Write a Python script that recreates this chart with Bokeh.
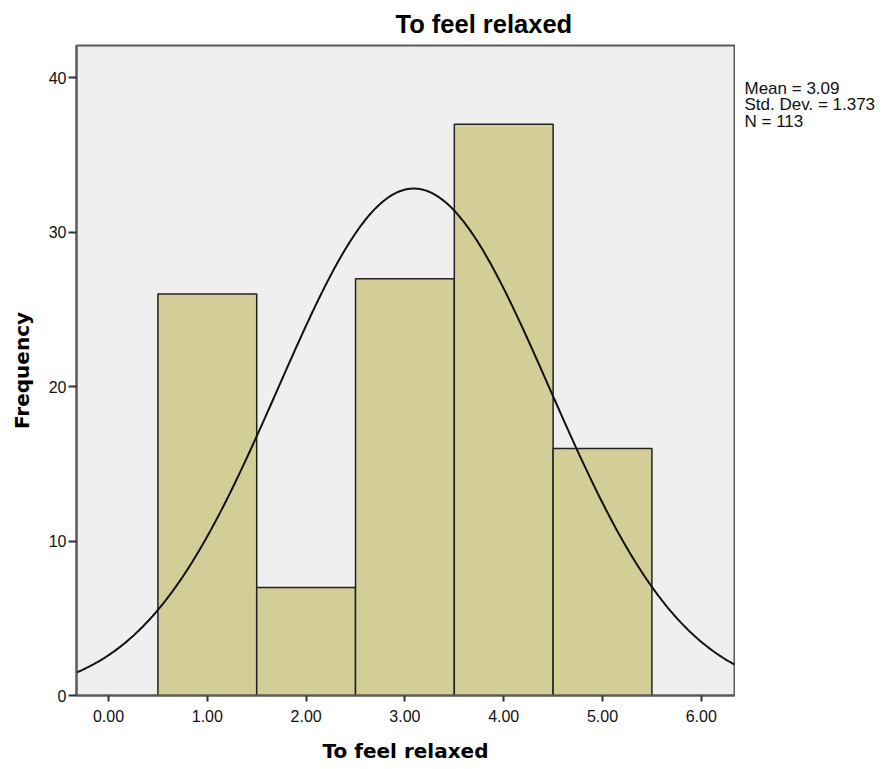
import numpy as np
from bokeh.plotting import figure
from bokeh.layouts import row
from bokeh.models import Range1d, FixedTicker, CustomJSTickFormatter, ColumnDataSource
from bokeh.core.properties import value
from bokeh.embed import file_html
from bokeh.resources import INLINE

# Data
bin_centers = [1, 2, 3, 4, 5]
frequencies = [26, 7, 27, 37, 16]
bin_width = 1.0
mean_val = 3.09
std_val = 1.373
n_val = 113
x_ticks = [0, 1, 2, 3, 4, 5, 6]
y_ticks = [0, 10, 20, 30, 40]
stats_lines = ["Mean = 3.09", "Std. Dev. = 1.373", "N = 113"]

x_lo, x_hi = -0.324, 6.336
y_lo, y_hi = 0, 42.1

TOTAL_H = 753
TOP = 45

p = figure(frame_width=658, frame_height=650,
           x_range=Range1d(x_lo, x_hi), y_range=Range1d(y_lo, y_hi),
           output_backend="svg", toolbar_location=None,
           min_border_left=76, min_border_right=1,
           min_border_top=TOP, min_border_bottom=TOTAL_H - 650 - TOP,
           title="To feel relaxed")

p.title.align = "left"
p.title.offset = 319
p.title.standoff = 15
p.title.text_font = "Liberation Sans"
p.title.text_font_size = "25.5px"
p.title.text_font_style = "bold"
p.title.text_color = "#000000"

p.background_fill_color = "#efefef"
p.border_fill_color = "#ffffff"
p.outline_line_color = "#5a5a5a"
p.outline_line_width = 2
p.xgrid.visible = False
p.ygrid.visible = False

src = ColumnDataSource(dict(x=bin_centers, top=frequencies))
p.vbar(x="x", top="top", bottom=0, width=bin_width, source=src,
       fill_color="#d3ce97", line_color="#222222", line_width=1.5)

xs = np.linspace(x_lo, x_hi, 400)
ys = n_val * bin_width / (std_val * np.sqrt(2 * np.pi)) * np.exp(-0.5 * ((xs - mean_val) / std_val) ** 2)
p.line(xs, ys, line_color="#111111", line_width=2)

for ax in (p.xaxis[0], p.yaxis[0]):
    ax.axis_line_color = "#5a5a5a"
    ax.axis_line_width = 2
    ax.major_tick_line_color = "#333333"
    ax.major_tick_line_width = 2
    ax.major_tick_in = 0
    ax.minor_tick_line_color = None
    ax.major_label_text_font = "Liberation Sans"
    ax.major_label_text_font_size = "16px"
    ax.major_label_text_color = "#111111"
    ax.axis_label_text_font = "DejaVu Sans"
    ax.axis_label_text_font_size = "20px"
    ax.axis_label_text_font_style = "bold"
    ax.axis_label_text_color = "#000000"

p.xaxis.ticker = FixedTicker(ticks=x_ticks)
p.xaxis.formatter = CustomJSTickFormatter(code="return tick.toFixed(2);")
p.xaxis.major_tick_out = 6
p.xaxis.major_label_standoff = 8
p.xaxis.axis_label = "To feel relaxed"
p.xaxis.axis_label_standoff = 14

p.yaxis.ticker = FixedTicker(ticks=y_ticks)
p.yaxis.major_tick_out = 8
p.yaxis.major_label_standoff = 2
p.yaxis.axis_label = "Frequency"
p.yaxis.axis_label_standoff = 12

# side panel with the summary statistics (pixel coordinates, y downward)
SIDE_W = 145
s = figure(frame_width=SIDE_W, frame_height=TOTAL_H, x_range=Range1d(0, SIDE_W),
           y_range=Range1d(TOTAL_H, 0), output_backend="svg", title=None,
           toolbar_location=None, x_axis_location=None, y_axis_location=None,
           min_border=0)
s.outline_line_color = None
s.background_fill_color = "#ffffff"
s.border_fill_color = "#ffffff"
s.xgrid.visible = False
s.ygrid.visible = False
line_gap = 16.6
s.text(x=[9] * len(stats_lines), y=[33 + i * line_gap for i in range(len(stats_lines))],
       text=stats_lines, text_font=value("Liberation Sans"), text_font_size="17px",
       text_color="#111111", text_baseline="top", text_align="left")

layout = row(p, s, spacing=0)
open("out.html", "w").write(file_html(layout, INLINE))
